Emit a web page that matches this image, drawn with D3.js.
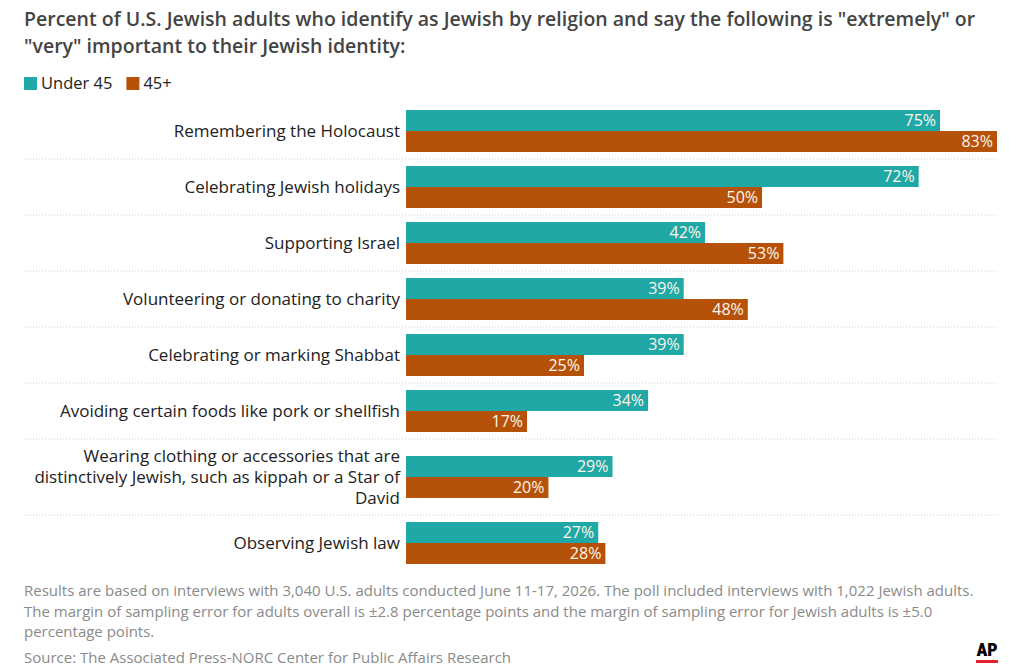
<!DOCTYPE html>
<html>
<head>
<meta charset="utf-8">
<script src="https://cdnjs.cloudflare.com/ajax/libs/d3/7.8.5/d3.min.js"></script>
<style>
  body { margin: 0; background: #fff; font-family: "Open Sans", sans-serif; }
  svg text { font-family: "Open Sans", sans-serif; }
</style>
</head>
<body>
<svg id="chart"></svg>
<script>
// chart data
const categories = [
  "Remembering the Holocaust",
  "Celebrating Jewish holidays",
  "Supporting Israel",
  "Volunteering or donating to charity",
  "Celebrating or marking Shabbat",
  "Avoiding certain foods like pork or shellfish",
  "Wearing clothing or accessories that are distinctively Jewish, such as kippah or a Star of David",
  "Observing Jewish law"
];
const under45 = [75, 72, 42, 39, 39, 34, 29, 27];
const over45 = [83, 50, 53, 48, 25, 17, 20, 28];
const seriesNames = ["Under 45", "45+"];
const colors = ["#1fa8a5", "#b55109"];

const titleLines = [
  "Percent of U.S. Jewish adults who identify as Jewish by religion and say the following is \"extremely\" or",
  "\"very\" important to their Jewish identity:"
];
const noteLines = [
  "Results are based on interviews with 3,040 U.S. adults conducted June 11-17, 2026. The poll included interviews with 1,022 Jewish adults.",
  "The margin of sampling error for adults overall is \u00b12.8 percentage points and the margin of sampling error for Jewish adults is \u00b15.0",
  "percentage points."
];
const source = "Source: The Associated Press-NORC Center for Public Affairs Research";

const width = 1017, height = 670;
const svg = d3.select("#chart").attr("width", width).attr("height", height);

// title
svg.append("g").selectAll("text").data(titleLines).join("text")
  .attr("x", 24).attr("y", (d, i) => 26 + i * 27)
  .attr("fill", "#444").attr("font-size", 19.5).attr("font-weight", 600)
  .text(d => d);

// legend
const leg = svg.append("g").attr("transform", "translate(24,77)");
let lx = 0;
seriesNames.forEach((s, i) => {
  leg.append("rect").attr("x", lx).attr("y", 0).attr("width", 13).attr("height", 13).attr("fill", colors[i]);
  const t = leg.append("text").attr("x", lx + 17).attr("y", 12).attr("font-size", 16.5).attr("fill", "#222").text(s);
  lx += 17 + t.node().getComputedTextLength() + 14;
});

// x scale
const x = d3.scaleLinear().domain([0, 83]).range([406, 997]);

// wrap labels
const labelWidth = 375, lineH = 21, labelSize = 17;
const measure = svg.append("text").attr("font-size", labelSize);
function wrap(str) {
  const words = str.split(" "), lines = [];
  let cur = "";
  words.forEach(w => {
    const test = cur ? cur + " " + w : w;
    measure.text(test);
    if (measure.node().getComputedTextLength() > labelWidth && cur) { lines.push(cur); cur = w; }
    else cur = test;
  });
  lines.push(cur);
  return lines;
}
const wrapped = categories.map(wrap);
measure.remove();

// group heights
const barH = 21;
const groupH = wrapped.map(l => Math.max(56, l.length * lineH + 13));
let yTop = 103;
const groups = categories.map((c, i) => {
  const g = { i, top: yTop, h: groupH[i], lines: wrapped[i] };
  yTop += groupH[i];
  return g;
});

const rows = svg.append("g");
const row = rows.selectAll("g").data(groups).join("g")
  .attr("transform", d => `translate(0,${d.top})`);

// separators
row.filter(d => d.i < categories.length - 1).append("line")
  .attr("x1", 24).attr("x2", 997).attr("y1", d => d.h).attr("y2", d => d.h)
  .attr("stroke", "#cfcfcf").attr("stroke-dasharray", "1,2");

const barSets = [under45, over45];
barSets.forEach((vals, s) => {
  row.append("rect")
    .attr("x", x(0))
    .attr("y", d => d.h / 2 - barH + s * barH)
    .attr("width", d => x(vals[d.i]) - x(0))
    .attr("height", barH)
    .attr("fill", colors[s]);
  row.append("text")
    .attr("x", d => x(vals[d.i]) - 4)
    .attr("y", d => d.h / 2 - barH + s * barH + 16)
    .attr("text-anchor", "end").attr("font-size", 16)
    .attr("fill", "#fdf6ea")
    .text(d => vals[d.i] + "%");
});

// category labels
row.append("text")
  .attr("text-anchor", "end").attr("font-size", labelSize).attr("fill", "#222")
  .each(function(d) {
    const n = d.lines.length;
    const y0 = d.h / 2 - (n - 1) * lineH / 2 + 6;
    d3.select(this).selectAll("tspan").data(d.lines).join("tspan")
      .attr("x", 400).attr("y", (l, k) => y0 + k * lineH).text(l => l);
  });

// notes
svg.append("g").selectAll("text").data(noteLines).join("text")
  .attr("x", 24).attr("y", (d, i) => 596 + i * 20.5)
  .attr("font-size", 15).attr("fill", "#8a8a8a").text(d => d);
svg.append("text").attr("x", 24).attr("y", 663).attr("font-size", 15).attr("fill", "#8a8a8a").text(source);

// AP logo
svg.append("text").attr("x", 987).attr("y", 656).attr("text-anchor", "middle")
  .attr("font-size", 18).attr("font-weight", 900).attr("fill", "#000")
  .style("font-family", "'Roboto Condensed', 'Liberation Sans Narrow', 'DejaVu Sans Condensed', sans-serif")
  .text("AP");
svg.append("rect").attr("x", 976).attr("y", 660).attr("width", 22).attr("height", 3).attr("fill", "#e4202e");
</script>
</body>
</html>
